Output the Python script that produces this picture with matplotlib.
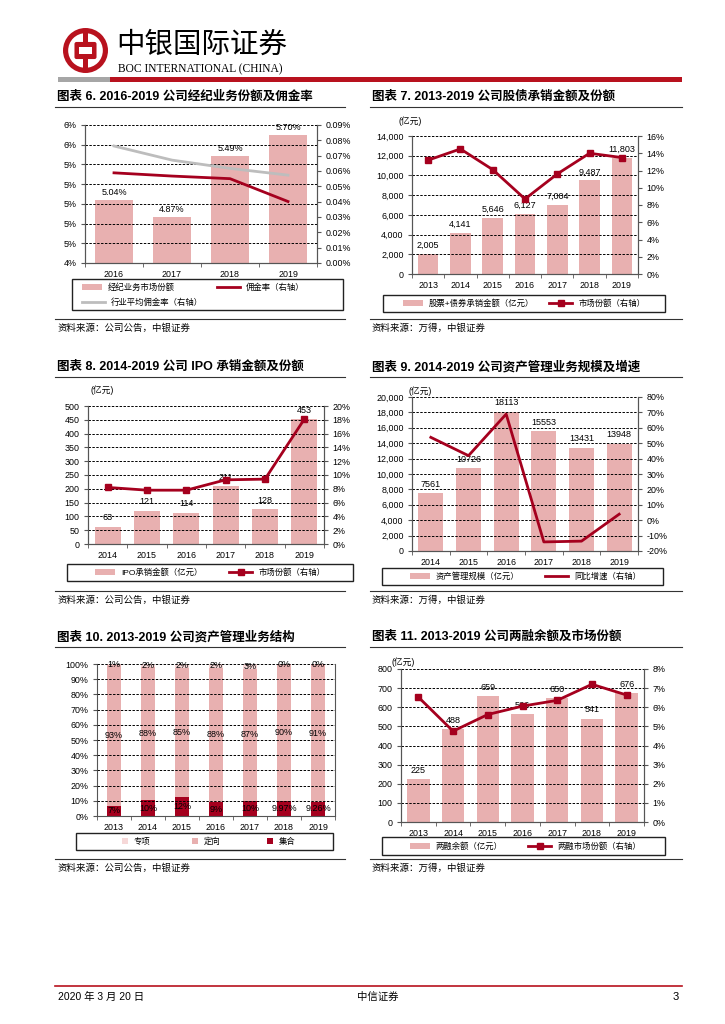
import numpy as np
import matplotlib.pyplot as plt
from matplotlib.patches import Rectangle, Circle, FancyBboxPatch
from matplotlib.lines import Line2D
from matplotlib.ticker import FuncFormatter

plt.rcParams['font.family'] = ['Liberation Sans', 'Noto Sans CJK SC']

W, H = 725, 1024

PINK = '#E8B0B0'
LIGHT_PINK = '#F6D8D8'
DARK_RED = '#A5001E'
LOGO_RED = '#B8121E'
GRAY_LINE = '#BDBDBD'
AXIS = '#555555'
TICK_FS = 6.4

# ---- data ----
brk_years = ['2016', '2017', '2018', '2019']
brk_share = [5.04, 4.87, 5.49, 5.70]
brk_comm = [0.0588, 0.0567, 0.0550, 0.0401]
brk_industry = [0.0763, 0.0671, 0.0617, 0.0573]

uw_years = ['2013', '2014', '2015', '2016', '2017', '2018', '2019']
uw_amount = [2005, 4141, 5646, 6127, 7004, 9487, 11803]
uw_share = [13.2, 14.5, 12.1, 8.7, 11.6, 14.0, 13.5]

ipo_years = ['2014', '2015', '2016', '2017', '2018', '2019']
ipo_amount = [63, 121, 114, 211, 128, 453]
ipo_share = [8.2, 7.8, 7.8, 9.3, 9.4, 18.1]

am_years = ['2014', '2015', '2016', '2017', '2018', '2019']
am_scale = [7561, 10726, 18113, 15553, 13431, 13948]
am_growth = [53.8, 41.9, 68.9, -14.1, -13.6, 3.9]

mix_years = ['2013', '2014', '2015', '2016', '2017', '2018', '2019']
mix_jihe = [6.6, 10.3, 12.3, 9.2, 9.9, 9.97, 9.26]
mix_dingxiang = [92.6, 87.6, 85.3, 88.4, 86.9, 89.73, 90.54]
mix_zhuanxiang = [0.8, 2.1, 2.4, 2.4, 3.2, 0.3, 0.2]
mix_jihe_labels = ['7%', '10%', '12%', '9%', '10%', '9.97%', '9.26%']

mt_years = ['2013', '2014', '2015', '2016', '2017', '2018', '2019']
mt_balance = [225, 488, 659, 566, 650, 541, 676]
mt_share = [6.53, 4.75, 5.62, 6.06, 6.36, 7.20, 6.64]


def rect(l, t, r, b):
    return [l / W, 1 - b / H, (r - l) / W, (b - t) / H]


def fx(x):
    return x / W


def fy(y):
    return 1 - y / H


def style_axes(ax, years):
    n = len(years)
    ax.set_xlim(-0.5, n - 0.5)
    ax.set_xticks(np.arange(n))
    ax.set_xticklabels(years)
    ax.set_xticks(np.arange(n + 1) - 0.5, minor=True)
    ax.tick_params(axis='x', which='major', length=0, labelsize=TICK_FS, pad=5)
    ax.tick_params(axis='x', which='minor', length=3, color=AXIS)
    ax.tick_params(axis='y', length=3, labelsize=TICK_FS, color=AXIS, pad=3)
    ax.spines['top'].set_visible(False)
    for s in ('left', 'right', 'bottom'):
        ax.spines[s].set_color(AXIS)
        ax.spines[s].set_linewidth(0.8)
    ax.yaxis.grid(True, color='black', ls=(0, (2.5, 1.5)), lw=0.7)
    ax.set_axisbelow(False)


def style_twin(ax2):
    ax2.spines['top'].set_visible(False)
    for s in ('left', 'right', 'bottom'):
        ax2.spines[s].set_color(AXIS)
        ax2.spines[s].set_linewidth(0.8)
    ax2.tick_params(axis='y', length=3, labelsize=TICK_FS, color=AXIS, pad=3)


def bar_labels(ax, vals, labels, dy=2):
    for i, (v, t) in enumerate(zip(vals, labels)):
        ax.annotate(t, (i, v), xytext=(0, dy), textcoords='offset points',
                    ha='center', va='bottom', fontsize=6.5)


def header(fig, x, y, text, line_l, line_r):
    fig.text(fx(x), fy(y), text, fontsize=9, fontweight='bold', va='center', ha='left')
    fig.add_artist(Line2D([fx(line_l), fx(line_r)], [fy(y + 10), fy(y + 10)],
                          color='#333333', lw=0.8, transform=fig.transFigure))


def source(fig, x, y, text, line_l, line_r):
    fig.add_artist(Line2D([fx(line_l), fx(line_r)], [fy(y - 9), fy(y - 9)],
                          color='#333333', lw=0.8, transform=fig.transFigure))
    fig.text(fx(x), fy(y), text, fontsize=6.8, style='italic', va='center', ha='left')


def legend_box(fig, l, t, r, b):
    fig.add_artist(Rectangle((fx(l), fy(b)), (r - l) / W, (b - t) / H, fill=False,
                             ec='#222222', lw=1.0, transform=fig.transFigure))


def legend_item(fig, handle, label, x, y, hl=2.4, hh=0.75):
    fig.legend([handle], [label], loc='center left', bbox_to_anchor=(fx(x), fy(y)),
               frameon=False, fontsize=6, borderpad=0, borderaxespad=0,
               handlelength=hl, handleheight=hh, handletextpad=0.7)


def bar_handle(color=PINK):
    return Rectangle((0, 0), 1, 1, fc=color, ec='none')


def line_handle(color=DARK_RED, marker=None):
    return Line2D([], [], color=color, lw=2, marker=marker, ms=5)


fig = plt.figure(figsize=(W / 100, H / 100), dpi=100)

# ---- page header ----
lax = fig.add_axes(rect(63, 28, 108, 73))
lax.set_xlim(-1, 1)
lax.set_ylim(-1, 1)
lax.set_aspect('equal')
lax.axis('off')
lax.add_patch(Circle((0, 0), 1.0, fc=LOGO_RED, ec='none'))
lax.add_patch(Circle((0, 0), 0.77, fc='white', ec='none'))
lax.add_patch(Rectangle((-0.11, -0.8), 0.22, 1.6, fc=LOGO_RED, ec='none'))
lax.add_patch(FancyBboxPatch((-0.4, -0.29), 0.8, 0.58, boxstyle='round,pad=0.09',
                             fc=LOGO_RED, ec='none'))
lax.add_patch(Rectangle((-0.27, -0.15), 0.54, 0.30, fc='white', ec='none'))

fig.text(fx(116), fy(45), '中银国际证券', fontsize=20.5, va='center', ha='left',
         family=['Noto Sans CJK SC'])
fig.text(fx(118), fy(69), 'BOC INTERNATIONAL (CHINA)', fontsize=8.3, va='center',
         ha='left', family=['Liberation Serif'])
fig.add_artist(Rectangle((fx(58), fy(82)), 52 / W, 5 / H, fc='#A6A6A6', ec='none',
                         transform=fig.transFigure))
fig.add_artist(Rectangle((fx(110), fy(82)), 572 / W, 5 / H, fc=LOGO_RED, ec='none',
                         transform=fig.transFigure))

# ---- chart 6 ----
header(fig, 57, 97, '图表 6. 2016-2019 公司经纪业务份额及佣金率', 55, 345)
ax = fig.add_axes(rect(85, 125, 317, 263))
style_axes(ax, brk_years)
x = np.arange(len(brk_years))
ax.bar(x, brk_share, width=0.67, color=PINK)
ax.set_ylim(4.4, 5.8)
ax.set_yticks(np.arange(4.4, 5.81, 0.2))
ax.yaxis.set_major_formatter(FuncFormatter(lambda v, p: f'{v:.0f}%'))
bar_labels(ax, brk_share, [f'{v:.2f}%' for v in brk_share])
ax2 = ax.twinx()
style_twin(ax2)
ax2.plot(x, brk_industry, color=GRAY_LINE, lw=2)
ax2.plot(x, brk_comm, color=DARK_RED, lw=2)
ax2.set_ylim(0, 0.09)
ax2.set_yticks(np.arange(0, 0.0901, 0.01))
ax2.yaxis.set_major_formatter(FuncFormatter(lambda v, p: f'{v:.2f}%'))
legend_box(fig, 72, 279, 343, 310)
legend_item(fig, bar_handle(), '经纪业务市场份额', 82, 288)
legend_item(fig, line_handle(), '佣金率（右轴）', 217, 288, hl=2.8)
legend_item(fig, line_handle(GRAY_LINE), '行业平均佣金率（右轴）', 82, 303, hl=2.8)
source(fig, 57, 328, '资料来源：公司公告，中银证券', 55, 345)

# ---- chart 7 ----
header(fig, 372, 97, '图表 7. 2013-2019 公司股债承销金额及份额', 370, 682)
fig.text(fx(410), fy(121), '(亿元)', fontsize=6.3, ha='center', va='center')
ax = fig.add_axes(rect(412, 136, 638, 274))
style_axes(ax, uw_years)
x = np.arange(len(uw_years))
ax.bar(x, uw_amount, width=0.64, color=PINK)
ax.set_ylim(0, 14000)
ax.set_yticks(np.arange(0, 14001, 2000))
ax.yaxis.set_major_formatter(FuncFormatter(lambda v, p: f'{v:,.0f}'))
bar_labels(ax, uw_amount, [f'{v:,}' for v in uw_amount], dy=3)
ax2 = ax.twinx()
style_twin(ax2)
ax2.plot(x, uw_share, color=DARK_RED, lw=2, marker='s', ms=5)
ax2.set_ylim(0, 16)
ax2.set_yticks(np.arange(0, 16.1, 2))
ax2.yaxis.set_major_formatter(FuncFormatter(lambda v, p: f'{v:.0f}%'))
legend_box(fig, 383, 295, 665, 312)
legend_item(fig, bar_handle(), '股票+债券承销金额（亿元）', 403, 304)
legend_item(fig, line_handle(marker='s'), '市场份额（右轴）', 549, 304, hl=2.8)
source(fig, 372, 328, '资料来源：万得，中银证券', 370, 682)

# ---- chart 8 ----
header(fig, 57, 367, '图表 8. 2014-2019 公司 IPO 承销金额及份额', 55, 345)
fig.text(fx(102), fy(390), '(亿元)', fontsize=6.3, ha='center', va='center')
ax = fig.add_axes(rect(88, 406, 324, 544))
style_axes(ax, ipo_years)
x = np.arange(len(ipo_years))
ax.bar(x, ipo_amount, width=0.66, color=PINK)
ax.set_ylim(0, 500)
ax.set_yticks(np.arange(0, 501, 50))
bar_labels(ax, ipo_amount, [str(v) for v in ipo_amount], dy=3)
ax2 = ax.twinx()
style_twin(ax2)
ax2.plot(x, ipo_share, color=DARK_RED, lw=2, marker='s', ms=5)
ax2.set_ylim(0, 20)
ax2.set_yticks(np.arange(0, 20.1, 2))
ax2.yaxis.set_major_formatter(FuncFormatter(lambda v, p: f'{v:.0f}%'))
legend_box(fig, 67, 564, 353, 581)
legend_item(fig, bar_handle(), 'IPO承销金额（亿元）', 95, 573)
legend_item(fig, line_handle(marker='s'), '市场份额（右轴）', 229, 573, hl=2.8)
source(fig, 57, 600, '资料来源：公司公告，中银证券', 55, 345)

# ---- chart 9 ----
header(fig, 372, 367, '图表 9. 2014-2019 公司资产管理业务规模及增速', 370, 682)
fig.text(fx(420), fy(391), '(亿元)', fontsize=6.3, ha='center', va='center')
ax = fig.add_axes(rect(412, 397, 638, 551))
style_axes(ax, am_years)
x = np.arange(len(am_years))
ax.bar(x, am_scale, width=0.66, color=PINK)
ax.set_ylim(0, 20000)
ax.set_yticks(np.arange(0, 20001, 2000))
ax.yaxis.set_major_formatter(FuncFormatter(lambda v, p: f'{v:,.0f}'))
bar_labels(ax, am_scale, [str(v) for v in am_scale], dy=3)
ax2 = ax.twinx()
style_twin(ax2)
ax2.plot(x, am_growth, color=DARK_RED, lw=2)
ax2.set_ylim(-20, 80)
ax2.set_yticks(np.arange(-20, 80.1, 10))
ax2.yaxis.set_major_formatter(FuncFormatter(lambda v, p: f'{v:.0f}%'))
legend_box(fig, 382, 568, 663, 585)
legend_item(fig, bar_handle(), '资产管理规模（亿元）', 410, 577)
legend_item(fig, line_handle(), '同比增速（右轴）', 545, 577, hl=2.8)
source(fig, 372, 600, '资料来源：万得，中银证券', 370, 682)

# ---- chart 10 ----
header(fig, 57, 637, '图表 10. 2013-2019 公司资产管理业务结构', 55, 345)
ax = fig.add_axes(rect(97, 664, 335, 816))
style_axes(ax, mix_years)
x = np.arange(len(mix_years))
jihe = np.array(mix_jihe)
ding = np.array(mix_dingxiang)
zhuan = np.array(mix_zhuanxiang)
ax.bar(x, jihe, width=0.4, color=DARK_RED)
ax.bar(x, ding, width=0.4, bottom=jihe, color=PINK)
ax.bar(x, zhuan, width=0.4, bottom=jihe + ding, color=LIGHT_PINK)
ax.set_ylim(0, 100)
ax.set_yticks(np.arange(0, 101, 10))
ax.yaxis.set_major_formatter(FuncFormatter(lambda v, p: f'{v:.0f}%'))
ax.tick_params(axis='y', right=False)
for i in range(len(mix_years)):
    ax.text(i, jihe[i] / 2, mix_jihe_labels[i], ha='center', va='center', fontsize=6.5)
    ax.text(i, jihe[i] + ding[i] / 2, f'{ding[i]:.0f}%', ha='center', va='center',
            fontsize=6.5)
    ax.text(i, jihe[i] + ding[i] + zhuan[i] / 2, f'{zhuan[i]:.0f}%', ha='center',
            va='center', fontsize=6.5)
legend_box(fig, 76, 833, 333, 850)
legend_item(fig, bar_handle(LIGHT_PINK), '专项', 122, 842, hl=0.7, hh=0.7)
legend_item(fig, bar_handle(PINK), '定向', 192, 842, hl=0.7, hh=0.7)
legend_item(fig, bar_handle(DARK_RED), '集合', 267, 842, hl=0.7, hh=0.7)
source(fig, 57, 868, '资料来源：公司公告，中银证券', 55, 345)

# ---- chart 11 ----
header(fig, 372, 637, '图表 11. 2013-2019 公司两融余额及市场份额', 370, 682)
fig.text(fx(403), fy(662), '(亿元)', fontsize=6.3, ha='center', va='center')
ax = fig.add_axes(rect(401, 669, 644, 822))
style_axes(ax, mt_years)
x = np.arange(len(mt_years))
ax.bar(x, mt_balance, width=0.65, color=PINK)
ax.set_ylim(0, 800)
ax.set_yticks(np.arange(0, 801, 100))
bar_labels(ax, mt_balance, [str(v) for v in mt_balance], dy=3)
ax2 = ax.twinx()
style_twin(ax2)
ax2.plot(x, mt_share, color=DARK_RED, lw=2, marker='s', ms=5)
ax2.set_ylim(0, 8)
ax2.set_yticks(np.arange(0, 8.1, 1))
ax2.yaxis.set_major_formatter(FuncFormatter(lambda v, p: f'{v:.0f}%'))
legend_box(fig, 382, 837, 665, 855)
legend_item(fig, bar_handle(), '两融余额（亿元）', 410, 847)
legend_item(fig, line_handle(marker='s'), '两融市场份额（右轴）', 528, 847, hl=2.8)
source(fig, 372, 868, '资料来源：万得，中银证券', 370, 682)

# ---- footer ----
fig.add_artist(Line2D([fx(55), fx(682)], [fy(986), fy(986)], color=LOGO_RED, lw=1.2,
                      transform=fig.transFigure))
fig.text(fx(58), fy(997), '2020 年 3 月 20 日', fontsize=7.5, ha='left', va='center')
fig.text(fx(378), fy(997), '中信证券', fontsize=7.5, ha='center', va='center')
fig.text(fx(676), fy(997), '3', fontsize=8, ha='center', va='center')

fig.savefig('out.png', dpi=100)
